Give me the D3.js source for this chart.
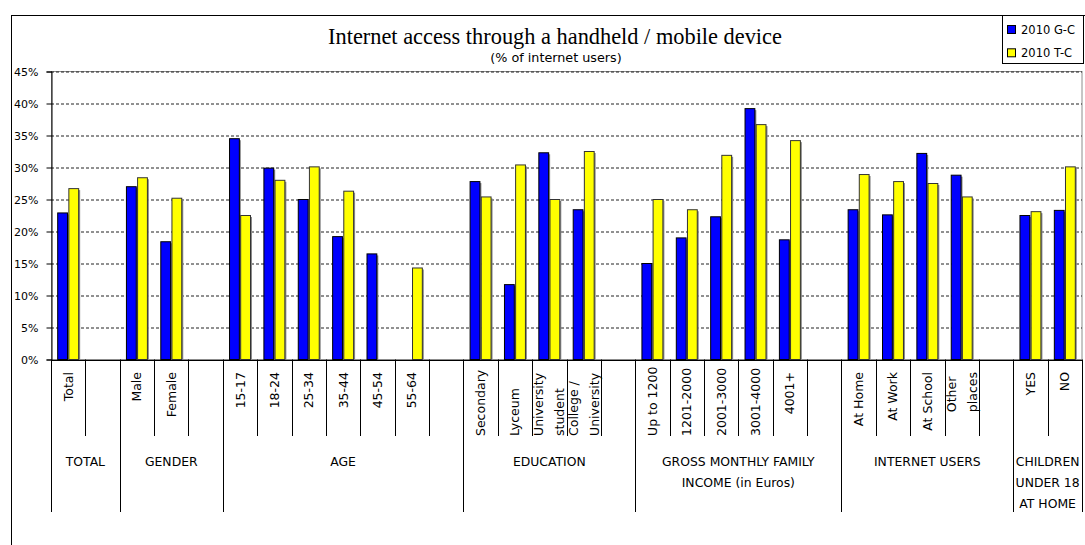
<!DOCTYPE html>
<html><head><meta charset="utf-8">
<script src="https://cdn.jsdelivr.net/npm/d3@7"></script>
<style>
body{margin:0;background:#fff}
svg{display:block}
text{font-family:"DejaVu Sans",sans-serif;fill:#000}
</style>
</head><body>
<svg id="c" width="1085" height="545"></svg>
<script>
// ---------- data ----------
const categories = ["Total","","Male","Female","","15-17","18-24","25-34","35-44","45-54","55-64","",
  "Secondary","Lyceum","University\nstudent","College /\nUniversity","",
  "Up to 1200","1201-2000","2001-3000","3001-4000","4001+","",
  "At Home","At Work","At School","Other\nplaces","","YES","NO"];
const seriesNames = ["2010 G-C","2010 T-C"];
const valuesGC = [22.9,null,27.0,18.4,null,34.5,29.9,25.0,19.2,16.5,null,null,
  27.8,11.7,32.3,23.4,null,15.0,19.0,22.3,39.2,18.7,null,23.4,22.6,32.2,28.8,null,22.5,23.3];
const valuesTC = [26.7,null,28.4,25.2,null,22.5,28.0,30.1,26.3,null,14.3,null,
  25.4,30.4,25.0,32.5,null,25.0,23.4,31.9,36.7,34.2,null,28.9,27.8,27.5,25.4,null,23.1,30.1];
const groupLabels = ["TOTAL","GENDER","AGE","EDUCATION","GROSS MONTHLY FAMILY\nINCOME (in Euros)","INTERNET USERS","CHILDREN\nUNDER 18\nAT HOME"];
const groupSizes = [2,3,7,5,6,5,2];
const yTicks = [0,5,10,15,20,25,30,35,40,45];
const titleText = "Internet access through a handheld / mobile device";
const subtitleText = "(% of internet users)";

// ---------- layout ----------
const svg = d3.select("#c");
const L = 51, R = 1082, T = 71.5, B = 359.5;
const seriesColors = ["#0000FF","#FFFF00"];
const seriesStroke = ["#000000","#333333"];

// outer frame
svg.append("rect").attr("x",11.5).attr("y",15.5).attr("width",1100).attr("height",600)
  .attr("fill","none").attr("stroke","#000").attr("stroke-width",1);

const x = d3.scaleBand().domain(d3.range(categories.length)).range([L,R])
  .paddingInner(0.39).paddingOuter(0.195);
const xs = d3.scaleBand().domain([0,1]).range([0,x.bandwidth()]).paddingInner(0.12);
const y = d3.scaleLinear().domain([0,45]).range([B,T]);
const step = x.step();
const pad = (step - x.bandwidth())/2;
const boundary = i => i < categories.length ? x(i) - pad : x(categories.length-1) + x.bandwidth() + pad;

// plot area border
svg.append("rect").attr("x",L+0.5).attr("y",T).attr("width",R-L-0.5).attr("height",B-T)
  .attr("fill","none").attr("stroke","#8c8c8c");

// gridlines
const grid = svg.append("g").attr("transform",`translate(${L},0)`)
  .call(d3.axisLeft(y).tickValues(yTicks.filter(t=>t>0)).tickSize(-(R-L)).tickFormat(""));
grid.select(".domain").remove();
grid.selectAll("line").attr("stroke","#222").attr("stroke-dasharray","3,2");

// bars
const series = [valuesGC, valuesTC];
series.forEach((vals, s) => {
  const g = svg.append("g");
  const data = vals.map((v,i)=>({v,i})).filter(d=>d.v!=null);
  g.selectAll("rect.sh").data(data).join("rect")
    .attr("x",d=>x(d.i)+xs(s)+1.5).attr("y",d=>y(d.v)+1.5)
    .attr("width",xs.bandwidth()).attr("height",d=>y(0)-y(d.v)-1.5)
    .attr("fill","#8a8a8a");
  g.selectAll("rect.b").data(data).join("rect")
    .attr("x",d=>x(d.i)+xs(s)).attr("y",d=>y(d.v))
    .attr("width",xs.bandwidth()).attr("height",d=>y(0)-y(d.v))
    .attr("fill",seriesColors[s]).attr("stroke",seriesStroke[s]).attr("stroke-width",1);
});

// y axis
const ya = svg.append("g").attr("transform",`translate(${L+0.5},0)`)
  .call(d3.axisLeft(y).tickValues(yTicks).tickSize(5).tickPadding(8).tickFormat(d=>d+"%"));
ya.selectAll("text").style("font-family",'"DejaVu Sans",sans-serif').style("font-size","11px").attr("fill","#000");
ya.selectAll("line,path").attr("stroke","#000");

// x axis line
svg.append("line").attr("x1",L).attr("x2",R+0.5).attr("y1",Math.round(y(0))+0.5).attr("y2",Math.round(y(0))+0.5)
  .attr("stroke","#000");

// separators
const groupStarts = [0];
groupSizes.forEach(s => groupStarts.push(groupStarts[groupStarts.length-1]+s));
const sep = svg.append("g");
d3.range(categories.length+1).forEach(i => {
  const long = groupStarts.includes(i);
  const xx = Math.round(boundary(i)) + 0.5;
  sep.append("line").attr("x1",xx).attr("x2",xx).attr("y1",y(0)).attr("y2",long?512:436)
    .attr("stroke","#000");
});

// category labels
const bottomAligned = new Set(["EDUCATION"]);
const groupOf = i => { for (let g=0; g<groupSizes.length; g++) if (i < groupStarts[g+1]) return g; return groupSizes.length-1; };
const measure = svg.append("text").style("font-size","12.5px").attr("opacity",0);
const len = s => { measure.text(s); return measure.node().getComputedTextLength(); };
const catG = svg.append("g");
categories.forEach((lab,i) => {
  if (!lab) return;
  const lines = lab.split("\n");
  const maxLen = d3.max(lines, len);
  const cx = x(i) + x.bandwidth()/2;
  const startY = bottomAligned.has(groupLabels[groupOf(i)]) ? 436 : Math.min(372 + maxLen, 436);
  lines.forEach((ln,k) => {
    const off = (k - (lines.length-1)/2) * 21;
    catG.append("text").attr("transform",`translate(${cx+off},${startY}) rotate(-90)`)
      .attr("dy","0.36em").attr("text-anchor","start").style("font-size","12.5px").text(ln);
  });
});
measure.remove();

// group labels
const grpG = svg.append("g");
groupLabels.forEach((lab,g) => {
  const cx = (boundary(groupStarts[g]) + boundary(groupStarts[g+1]))/2;
  lab.split("\n").forEach((ln,k) => {
    grpG.append("text").attr("x",cx).attr("y",461.5 + k*21).attr("dy","0.36em")
      .attr("text-anchor","middle").style("font-size","12.4px").text(ln);
  });
});

// title & subtitle (fit to measured widths)
const title = svg.append("text").attr("x",555).attr("y",44.3).attr("text-anchor","middle")
  .style("font-family",'"Liberation Serif",serif').style("font-size","20px").text(titleText);
title.style("font-size", (20*454/title.node().getComputedTextLength()).toFixed(2)+"px");
const sub = svg.append("text").attr("x",556).attr("y",61.7).attr("text-anchor","middle")
  .style("font-size","12px").text(subtitleText);
sub.style("font-size", (12*131.7/sub.node().getComputedTextLength()).toFixed(2)+"px");

// legend
const lg = svg.append("g");
lg.append("rect").attr("x",1002.5).attr("y",15.5).attr("width",81).attr("height",48)
  .attr("fill","#fff").attr("stroke","#000");
seriesNames.forEach((n,s) => {
  const yy = 25 + s*23.3;
  lg.append("rect").attr("x",1007.5).attr("y",yy+0.5).attr("width",8).attr("height",8)
    .attr("fill",seriesColors[s]).attr("stroke","#000");
  lg.append("text").attr("x",1021).attr("y",yy+8.5).style("font-size","11.5px").text(n);
});
</script>
</body></html>
